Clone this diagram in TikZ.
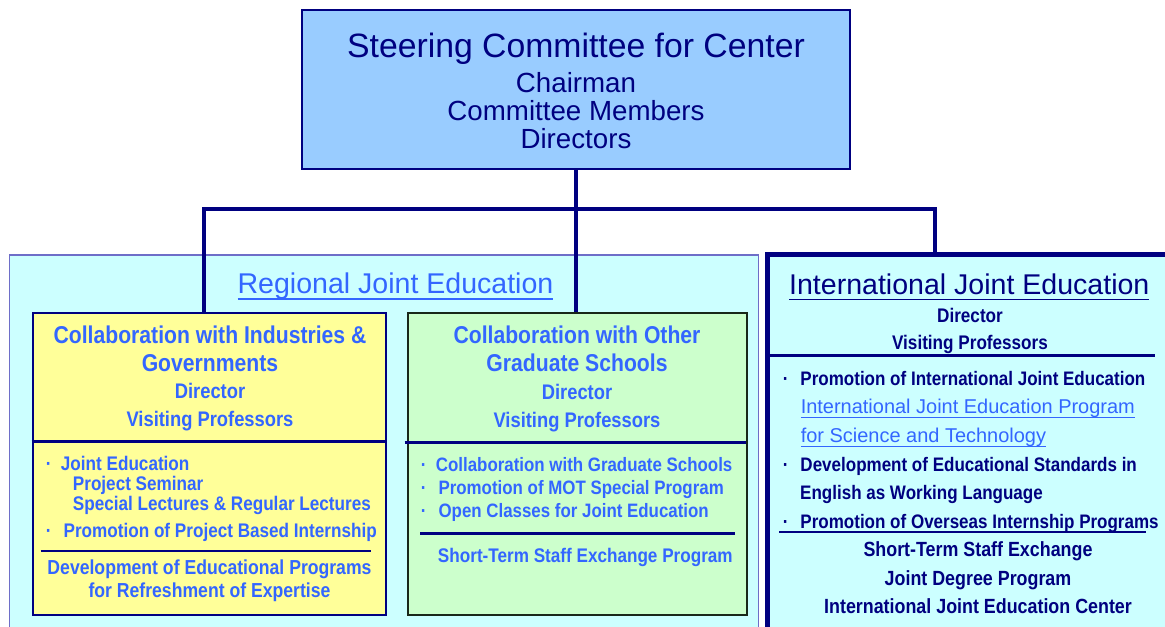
\documentclass[tikz,border=0pt]{standalone}
\usepackage{fontspec}
\setmainfont{Liberation Sans}
\newfontfamily\narrowsans{Liberation Sans}[FakeStretch=0.87]
\usepackage{tikz}
\definecolor{navy}{RGB}{0,0,128}
\definecolor{linkblue}{RGB}{51,102,255}
\definecolor{skyfill}{RGB}{153,204,255}
\definecolor{cyanfill}{RGB}{204,255,255}
\definecolor{lemonfill}{RGB}{255,255,153}
\definecolor{mintfill}{RGB}{204,255,204}
\definecolor{paleedge}{RGB}{110,110,200}
\definecolor{darkedge}{RGB}{25,40,25}
\newcommand{\ulined}[1]{\setbox0=\hbox{#1}\leavevmode\rlap{\rule[-0.21em]{\wd0}{0.06em}}\box0}
\tikzset{
    normal/.style={draw=navy, line width=1.4pt},
    box/.style={style=normal, rectangle, inner sep=0pt},
    wire/.style={navy, line width=2.3pt}, % tree connectors
    rule/.style={navy, line width=2pt}, % dividers inside boxes
    caption/.style={inner sep=0pt, anchor=north, align=center},
    items/.style={inner sep=0pt, anchor=north west, align=left},
    head/.style={style=caption, linkblue, font=\narrowsans\bfseries\fontsize{17.3}{19.6}\selectfont},
    staff/.style={style=caption, font=\narrowsans\bfseries\fontsize{15}{19.9}\selectfont}
}

\begin{document}
\begin{tikzpicture}[x=0.025cm, y=-0.025cm]
    \useasboundingbox (0,0) rectangle (1165,626);
    \clip (0,0) rectangle (1165,626);
    \fill[white] (0,0) rectangle (1165,626);

    \node[box, draw=paleedge, line width=0.8pt, fill=cyanfill, minimum width=18.7cm, minimum height=10.125cm] (regional) at (384,457.5) {};
    \node[box, line width=3.5pt, fill=cyanfill, minimum width=10.8cm, minimum height=10.125cm] (intl) at (984,457.5) {};
    \node[box, fill=skyfill, minimum width=13.7cm, minimum height=3.975cm] (steer) at (576,89.5) {};
    \node[box, line width=1.9pt, fill=lemonfill, minimum width=8.825cm, minimum height=7.55cm] (industry) at (209.5,464) {};
    \node[box, draw=darkedge, line width=2pt, fill=mintfill, minimum width=8.475cm, minimum height=7.55cm] (graduate) at (577.5,464) {};

    \coordinate (forkL) at (204,209);
    \coordinate (forkR) at (935,209);
    \draw[wire] (steer.south) -- (steer.south |- graduate.north);
    \draw[wire] (forkL |- industry.north) -- (forkL) -- (forkR) -- (forkR |- intl.north);

    \draw[rule] (industry.north west) ++(0,130) -- ++(353,0);
    \draw[rule, line width=1.8pt] (industry.north west) ++(9,239.3) -- ++(330,0);
    \draw[rule] (graduate.north west) ++(-2,131) -- ++(341,0);
    \draw[rule, line width=1.8pt] (graduate.north west) ++(13.7,222) -- ++(314.3,0);
    \draw[rule] (intl.north west) ++(2,102.7) -- ++(388,0);
    \draw[rule, line width=1.8pt] (intl.north west) ++(13.7,279.3) -- ++(367.3,0);

    % steering committee
    \node[caption, navy, font=\fontsize{24}{24}\selectfont] (steertitle) at (576,32.5) {Steering Committee for Center};
    \node[caption, navy, font=\fontsize{19.7}{19.9}\selectfont] (steerstaff) at (576,72)
        {Chairman\\Committee Members\\Directors};

    % regional
    \node[caption, linkblue, font=\fontsize{20.3}{21}\selectfont] (regtitle) at (395.5,273) {\ulined{Regional Joint Education}};
    \node[head] (indtitle) at (210,326) {Collaboration with Industries \&\\Governments};
    \node[staff, linkblue] (indstaff) at (210,383.3) {Director\\Visiting Professors};
    \node[items, linkblue, font=\narrowsans\bfseries\fontsize{14}{14.2}\selectfont] (inditems) at (45.5,456) {%
        \makebox[10.8pt][l]{·}Joint Education\\
        \hspace*{19.3pt}Project Seminar\\
        \hspace*{19.3pt}Special Lectures \& Regular Lectures\\[4.8pt]
        \makebox[12.7pt][l]{·}Promotion of Project Based Internship};
    \node[caption, linkblue, font=\narrowsans\bfseries\fontsize{14.4}{16.1}\selectfont] (indextra) at (209.5,560)
        {Development of Educational Programs\\for Refreshment of Expertise};

    \node[head] (gradtitle) at (577,326) {Collaboration with Other\\Graduate Schools};
    \node[staff, linkblue] (gradstaff) at (577,384.3) {Director\\Visiting Professors};
    \node[items, linkblue, font=\narrowsans\bfseries\fontsize{13.8}{16.4}\selectfont] (graditems) at (420.6,456.7) {%
        \makebox[10.7pt][l]{·}Collaboration with Graduate Schools\\
        \makebox[12.6pt][l]{·}Promotion of MOT Special Program\\
        \makebox[12.6pt][l]{·}Open Classes for Joint Education};
    \node[items, linkblue, font=\narrowsans\bfseries\fontsize{14}{16}\selectfont] (gradextra) at (437.7,548.3)
        {Short-Term Staff Exchange Program};

    % international
    \node[caption, navy, font=\fontsize{20.3}{21}\selectfont] (intltitle) at (969.3,273.3) {\ulined{International Joint Education}};
    \node[staff, navy, font=\narrowsans\bfseries\fontsize{14}{19.4}\selectfont] (intlstaff) at (970,307.7) {Director\\Visiting Professors};
    \node[items, navy, font=\narrowsans\bfseries\fontsize{13.9}{20.3}\selectfont] (intlitems) at (782.5,371) {%
        \makebox[12.6pt][l]{·}Promotion of International Joint Education\\
        \hspace*{12.8pt}{\normalfont\fontsize{14.2}{20.3}\selectfont\color{linkblue}\ulined{International Joint Education Program}}\\
        \hspace*{12.8pt}{\normalfont\fontsize{14.2}{20.3}\selectfont\color{linkblue}\ulined{for Science and Technology}}\\
        \makebox[12.6pt][l]{·}Development of Educational Standards in\\
        \hspace*{12.4pt}English as Working Language\\
        \makebox[12.6pt][l]{·}Promotion of Overseas Internship Programs};
    \node[caption, navy, font=\narrowsans\bfseries\fontsize{14.6}{20.1}\selectfont] (intlextra) at (978,541.7)
        {Short-Term Staff Exchange\\Joint Degree Program\\International Joint Education Center};
\end{tikzpicture}
\end{document}
